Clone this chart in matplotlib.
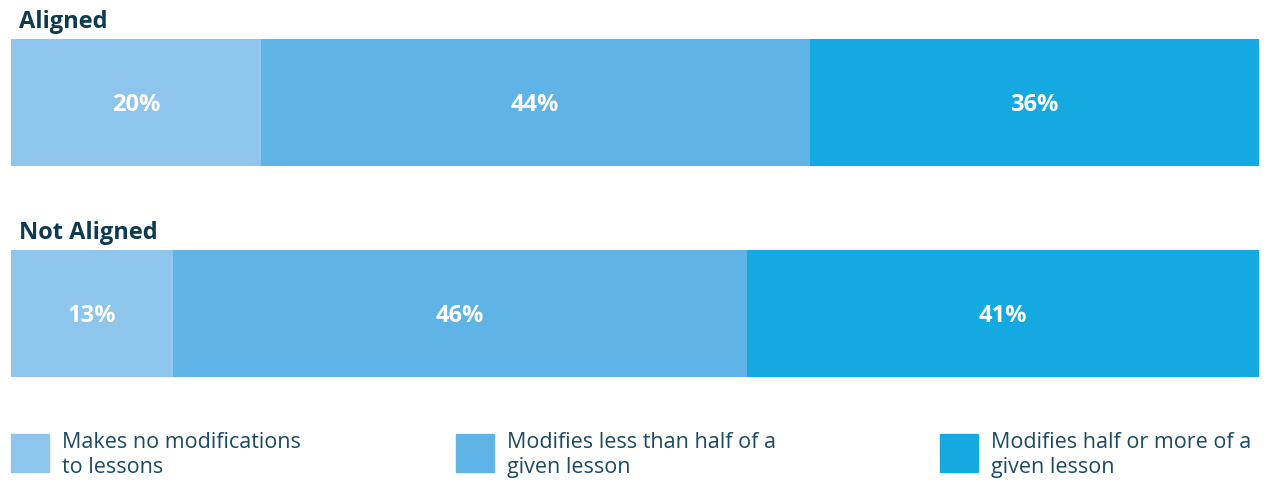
import matplotlib
matplotlib.use("Agg")
import matplotlib.pyplot as plt
from matplotlib.patches import Rectangle

groups = ["Aligned", "Not Aligned"]
categories = ["Makes no modifications\nto lessons",
              "Modifies less than half of a\ngiven lesson",
              "Modifies half or more of a\ngiven lesson"]
values = {
    "Aligned": [20, 44, 36],
    "Not Aligned": [13, 46, 41],
}
colors = ["#8DC5EC", "#5FB4E5", "#14A9E0"]

W, H = 1270, 481
fig = plt.figure(figsize=(W / 100, H / 100), dpi=100)
plt.rcParams["font.family"] = ["Open Sans", "DejaVu Sans"]

#pixel-ish y coordinates, x in percent
ax = fig.add_axes([11 / W, 0, 1248 / W, 1])
ax.set_xlim(0, 100)
ax.set_ylim(H, 0)
ax.axis("off")

bar_centers = [103, 314]
bar_h = 127
title_y = [22, 233]

for g, yc, ty in zip(groups, bar_centers, title_y):
    left = 0
    for v, c in zip(values[g], colors):
        ax.barh(yc, v, left=left, height=bar_h, color=c, edgecolor="none")
        ax.text(left + v / 2, yc + 2, f"{v}%", ha="center", va="center",
                color="white", fontsize=17, fontweight="bold")
        left += v
    ax.text(8 / 1248 * 100, ty, g, ha="left", va="center",
            color="#0E3B52", fontsize=17, fontweight="bold")

#legend drawn by hand
leg_x = [11, 456, 940]
for x, c, lab in zip(leg_x, colors, categories):
    fig.patches.append(Rectangle((x / W, 1 - 473 / H), 38 / W, 38 / H,
                                 transform=fig.transFigure, color=c))
    fig.text((x + 51) / W, 1 - 455 / H, lab, ha="left", va="center",
             color="#1B4A63", fontsize=15.5, linespacing=1.25)

plt.savefig("out.png", dpi=100)
